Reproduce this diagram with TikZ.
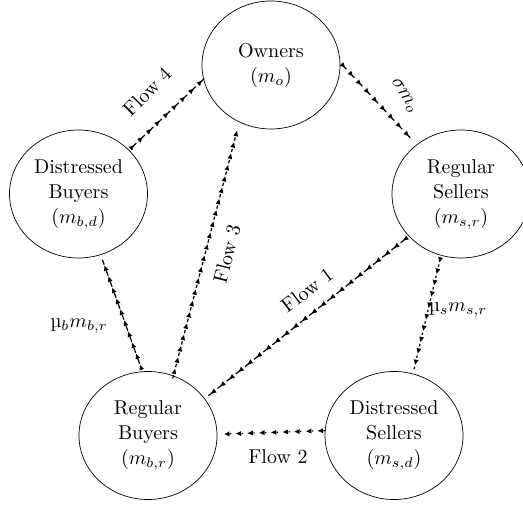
\documentclass[tikz,border=0pt]{standalone}
\usetikzlibrary{shapes.geometric,decorations.markings}
\tikzset{
  state/.style={draw, ellipse, line width=0.35pt, minimum width=69pt, minimum height=64pt, inner sep=0pt, align=center},
  flowarrow/.style={decorate, decoration={markings,
     mark=between positions 3.5pt and 1 step 5.85pt with {
       \fill (0pt,0pt) -- (-2.6pt,1.2pt) -- (-2.6pt,-1.2pt) -- cycle;
       \draw[line width=0.6pt] (-2.5pt,0pt) -- (-3.3pt,0pt);}}},
  lbl/.style={inner sep=0pt}
}
\begin{document}
\begin{tikzpicture}[x=0.5pt,y=-0.5pt,font=\fontsize{10}{12.5}\selectfont]
\useasboundingbox (0,0) rectangle (523,506);
\node[state] (o)  at (271,65)    {Owners\\\((m_o)\)};
\node[state] (db) at (78.5,194)  {Distressed\\Buyers\\\((m_{b,d})\)};
\node[state] (rs) at (461,194)   {Regular\\Sellers\\\((m_{s,r})\)};
\node[state] (rb) at (148,435.5) {Regular\\Buyers\\\((m_{b,r})\)};
\node[state] (ds) at (394,435.5) {Distressed\\Sellers\\\((m_{s,d})\)};

\path[flowarrow, shorten <=4pt, shorten >=1.5pt] (db.41) -- (o.192);
\path[flowarrow, shorten <=2.5pt] (rb.67) -- (o.241);
\path[flowarrow, shorten <=3.5pt, shorten >=2.5pt] (o.2) -- (rs.132);
\path[flowarrow, shorten <=1pt, shorten >=5pt] (rs.219) -- (rb.33.5);
\path[flowarrow, shorten <=3.5pt, shorten >=5.5pt] (rs.252) -- (ds.73);
\path[flowarrow, shorten <=1pt, shorten >=0.5pt] (ds.176) -- (rb.1.6);
\path[flowarrow, shorten <=3pt, shorten >=6.5pt] (rb.95) -- (db.290.4);

\node[lbl, rotate=45] (l4) at (147,92) {Flow 4};
\node[lbl, rotate=75.5] (l3) at (227,254) {Flow 3};
\node[lbl, rotate=-58] (ls) at (404,96) {\(\sigma m_o\)};
\node[lbl, rotate=37] (l1) at (307,290) {Flow 1};
\node[lbl] (l2) at (278,457) {Flow 2};
\node[lbl] (lb) at (79,326) {\textmu\(_b m_{b,r}\)};
\node[lbl] (lss) at (458,310) {\textmu\(_s m_{s,r}\)};
\end{tikzpicture}
\end{document}
